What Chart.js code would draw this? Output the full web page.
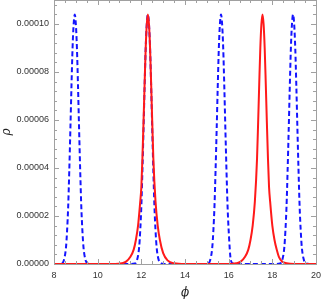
<!DOCTYPE html>
<html>
<head>
<meta charset="utf-8">
<script src="https://cdn.jsdelivr.net/npm/chart.js@4/dist/chart.umd.min.js"></script>
<style>
  html, body { margin: 0; padding: 0; background: #fff; }
  #wrap { width: 327px; height: 300px; }
</style>
</head>
<body>
<div id="wrap"><canvas id="c"></canvas></div>
<script>
// phi / rho samples (rho in units of 1e-5)
const solidPhi = [8, 10, 10.8, 11.1, 11.3, 11.5, 11.65, 11.75, 11.85, 11.95, 12.0, 12.05, 12.1, 12.15, 12.2, 12.25,
  12.3, 12.35, 12.4, 12.45, 12.5, 12.55, 12.65, 12.75, 12.85, 13.0, 13.2, 13.5, 14, 15, 16, 16.35, 16.55, 16.75,
  16.9, 17.0, 17.1, 17.2, 17.3, 17.35, 17.4, 17.45, 17.5, 17.55, 17.6, 17.65, 17.7, 17.75, 17.8, 17.85,
  17.9, 18.0, 18.1, 18.2, 18.3, 18.45, 18.65, 19, 20];
const solidRho = [0, 0, 0, 0.03, 0.1, 0.3, 0.6, 1.0, 1.6, 2.6, 3.2, 4.4, 5.9, 7.5, 9.0, 10.0,
  10.4, 10.0, 9.0, 7.5, 5.9, 4.4, 2.6, 1.6, 1.0, 0.45, 0.15, 0.03, 0, 0, 0, 0.03, 0.1, 0.3,
  0.6, 1.0, 1.6, 2.6, 4.4, 5.9, 7.5, 9.0, 10.0, 10.4, 10.0, 9.0, 7.5, 5.9, 4.4, 3.2,
  2.6, 1.6, 1.0, 0.6, 0.3, 0.1, 0.03, 0, 0];
const dashedPhi = [8, 8.2, 8.35, 8.45, 8.55, 8.6, 8.65, 8.7, 8.75, 8.8, 8.85, 8.9, 8.95, 9.0, 9.05, 9.1, 9.15,
  9.2, 9.25, 9.3, 9.35, 9.45, 9.55, 9.7, 11.5, 11.7, 11.8, 11.9, 11.95, 12.0, 12.05, 12.1, 12.15, 12.2, 12.25,
  12.3, 12.35, 12.4, 12.45, 12.5, 12.55, 12.6, 12.65, 12.7, 12.8, 12.9, 13.05, 14.9, 15.05, 15.15, 15.25,
  15.3, 15.35, 15.4, 15.45, 15.5, 15.55, 15.6, 15.65, 15.7, 15.75, 15.8, 15.85, 15.9, 15.95, 16.0, 16.1,
  16.2, 16.35, 18.2, 18.35, 18.45, 18.55, 18.6, 18.65, 18.7, 18.75, 18.8, 18.85, 18.9, 18.95, 19.0, 19.05,
  19.1, 19.15, 19.2, 19.25, 19.3, 19.35, 19.45, 19.55, 19.7, 20];
const dashedRho = [0, 0, 0.02, 0.15, 0.7, 1.4, 2.4, 3.9, 5.6, 7.4, 9.0, 10.0, 10.4, 10.0, 9.0, 7.4, 5.6,
  3.9, 2.4, 1.4, 0.7, 0.15, 0.02, 0, 0, 0.02, 0.15, 0.7, 1.4, 2.4, 3.9, 5.6, 7.4, 9.0, 10.0,
  10.4, 10.0, 9.0, 7.4, 5.6, 3.9, 2.4, 1.4, 0.7, 0.15, 0.02, 0, 0, 0.02, 0.15, 0.7,
  1.4, 2.4, 3.9, 5.6, 7.4, 9.0, 10.0, 10.4, 10.0, 9.0, 7.4, 5.6, 3.9, 2.4, 1.4, 0.15,
  0.02, 0, 0, 0.02, 0.15, 0.7, 1.4, 2.4, 3.9, 5.6, 7.4, 9.0, 10.0, 10.4, 10.0, 9.0,
  7.4, 5.6, 3.9, 2.4, 1.4, 0.7, 0.15, 0.02, 0, 0];

const xMin = 8, xMax = 20, xStep = 2;
const yMin = 0, yMax = 0.00011, yStep = 0.00002;

function toPoints(xs, ys) {
  return xs.map((x, i) => ({ x: x, y: ys[i] * 1e-5 }));
}

// рамка и внутренние засечки, как у Mathematica
const frameTicks = {
  id: 'frameTicks',
  afterDatasetsDraw(chart) {
    const ctx = chart.ctx;
    const a = chart.chartArea;
    const xs = chart.scales.x, ys = chart.scales.y;
    ctx.save();
    ctx.strokeStyle = '#a0a0a0';
    ctx.lineWidth = 1;
    ctx.beginPath();
    for (let v = xMin; v <= xMax + 1e-9; v += 0.5) {
      const px = Math.round(xs.getPixelForValue(v)) + 0.5;
      const len = Math.abs(v % 2) < 1e-9 ? 5 : 3;
      ctx.moveTo(px, a.bottom); ctx.lineTo(px, a.bottom - len);
      ctx.moveTo(px, a.top); ctx.lineTo(px, a.top + len);
    }
    for (let k = 0; k <= 27; k++) {
      const v = k * 0.000004;
      if (v > yMax) break;
      const py = Math.round(ys.getPixelForValue(v)) + 0.5;
      const len = k % 5 === 0 ? 5 : 3;
      ctx.moveTo(a.left, py); ctx.lineTo(a.left + len, py);
      ctx.moveTo(a.right, py); ctx.lineTo(a.right - len, py);
    }
    ctx.stroke();
    ctx.strokeRect(Math.round(a.left) + 0.5, Math.round(a.top) + 0.5,
      Math.round(a.right - a.left), Math.round(a.bottom - a.top));
    ctx.restore();
  }
};

new Chart(document.getElementById('c'), {
  type: 'line',
  data: {
    datasets: [{
      data: toPoints(dashedPhi, dashedRho),
      borderColor: '#1414ff',
      borderWidth: 2,
      borderDash: [5, 3],
      pointRadius: 0,
      cubicInterpolationMode: 'monotone',
      fill: false,
      order: 2
    }, {
      data: toPoints(solidPhi, solidRho),
      borderColor: '#ff1a1a',
      borderWidth: 2,
      pointRadius: 0,
      cubicInterpolationMode: 'monotone',
      fill: false,
      order: 1
    }]
  },
  options: {
    responsive: true,
    maintainAspectRatio: false,
    animation: false,
    clip: false,
    layout: { padding: { top: 0, right: 5, left: 0, bottom: 0 } },
    plugins: { legend: { display: false }, tooltip: { enabled: false } },
    scales: {
      x: {
        type: 'linear',
        min: xMin, max: xMax,
        grid: { display: false, drawTicks: false },
        border: { display: false },
        ticks: { stepSize: xStep, padding: 6, color: '#333', font: { family: 'Liberation Sans', size: 9 } },
        title: { display: true, text: 'ϕ', color: '#222', padding: { top: 1, bottom: 0 },
          font: { family: 'DejaVu Serif', style: 'italic', size: 12 } },
        afterFit: s => { s.height = 36; }
      },
      y: {
        min: yMin, max: yMax,
        grid: { display: false, drawTicks: false },
        border: { display: false },
        ticks: { stepSize: yStep, includeBounds: false, padding: 5, color: '#333',
          font: { family: 'Liberation Sans', size: 9 },
          callback: v => v.toFixed(5) },
        title: { display: true, text: 'ρ', color: '#222', padding: { top: 0, bottom: 0 },
          font: { family: 'DejaVu Serif', style: 'italic', size: 12 } },
        afterFit: s => { s.width = 54; s.paddingTop = 0; s.paddingBottom = 0; }
      }
    }
  },
  plugins: [frameTicks]
});
</script>
</body>
</html>
